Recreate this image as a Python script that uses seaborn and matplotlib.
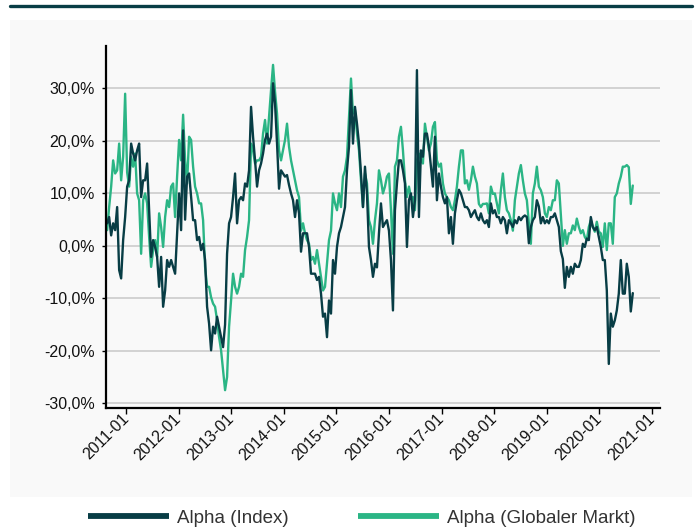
import numpy as np
import pandas as pd
import matplotlib
matplotlib.use("Agg")
import matplotlib.pyplot as plt
import matplotlib.dates as mdates
from matplotlib.lines import Line2D
from matplotlib.patches import Rectangle
import seaborn as sns

# ---- data (percent), roughly bi-weekly readings ----
start_date = "2010-08-22"
end_date = "2020-08-20"

alpha_index = [
    4.3, 5.5, 2.0, 4.3, 3.0, 7.4, -4.6, -6.2, 1.1, 5.5, 11.3, 12.5, 19.5, 17.6, 16.3, 18.2, 19.5, 9.3, 12.5, 12.5,
    15.7, 6.8, -2.1, 1.1, -0.2, -2.1, -7.8, -2.1, -11.6, -8.5, -2.7, -4.0, -2.7, -4.0, -5.3, 2.4, 10.0, 3.0,
    22.0, 5.0, 13.2, 13.8, 9.3, 4.9, 4.9, 1.1, 1.7, -0.8, 0.4, -2.7, -11.6, -14.8, -19.9, -15.4, -16.7, -13.5, -15.4, -17.4,
    -19.3, -15.0, -1.5, 4.3, 5.5, 9.3, 13.8, 4.3, 8.7, 9.3, 8.7, 11.9, 11.3, 14.4, 26.5, 20.8, 16.3, 11.3,
    14.4, 15.7, 17.6, 20.2, 21.4, 19.5, 20.8, 31.0, 27.1, 19.5, 10.9, 14.4, 13.8, 13.2, 13.5, 11.6, 10.0, 8.7, 5.5, 8.7,
    6.2, -1.1, 2.4, 2.4, 2.4, -0.2, -5.3, -5.3, -5.3, -6.5, -5.9, -9.1, -13.5, -12.9, -17.4, -10.4, -12.9, -2.7,
    -5.3, -0.2, 2.4, 3.6, 5.5, 7.4, 14.4, 18.9, 29.7, 19.5, 26.5, 23.3, 19.5, 13.8, 7.4, 15.1, 10.0, -0.2, -2.7, -5.9,
    -3.4, -4.1, 2.4, 8.1, 3.6, 4.3, 4.9, 2.9, -2.7, -12.3, 6.8, 11.9, 16.3, 16.3, 14.4, 11.9, -0.2, 8.7,
    10.0, 5.5, 8.7, 33.5, 5.5, 18.2, 17.0, 21.4, 21.4, 18.9, 15.1, 11.3, 20.8, 8.7, 13.8, 11.3, 9.3, 8.1, 9.3, 2.4,
    5.5, 0.4, 6.2, 8.7, 10.7, 10.0, 8.7, 7.4, 7.4, 6.8, 5.5, 6.2, 6.8, 5.5, 4.9, 6.2, 4.9, 4.3,
    4.9, 3.6, 8.1, 6.2, 6.8, 5.5, 5.5, 4.3, 5.5, 4.9, 2.4, 4.9, 4.3, 3.6, 4.9, 4.3, 5.5, 4.9, 5.5, 5.8,
    5.5, 0.5, 3.6, 4.9, 5.5, 8.7, 7.5, 4.3, 5.5, 4.3, 4.9, 4.3, 5.5, 5.5, 6.2, 4.9, 3.6, -1.0,
    -2.5, -8.0, -4.0, -5.9, -4.0, -5.3, -3.4, -4.0, -4.0, -2.7, 0.4, -0.2, 1.4, 1.1, 5.5, 3.6, 3.0, 3.6, 1.7, -0.2,
    -2.7, -2.7, -8.5, -22.5, -12.9, -15.4, -14.2, -12.3, -9.1, -2.7, -9.1, -9.1, -3.4, -5.9, -12.5, -9.0,
]

alpha_global = [
    3.0, 7.4, 11.3, 16.3, 13.8, 14.4, 19.5, 12.5, 17.0, 29.0, 14.0, 11.3, 17.0, 15.1, 17.6, 10.0, 8.7, -1.5, 8.7, 10.0,
    8.1, 1.7, -4.0, -0.8, 1.1, -2.1, 6.2, 3.6, -0.2, 5.5, 8.7, 7.4, 11.3, 11.9, 5.5, 13.2, 20.2, 16.3,
    25.0, 16.3, 11.9, 20.8, 20.2, 15.1, 11.3, 10.0, 8.1, 8.1, 4.9, -4.0, -7.8, -7.8, -9.8, -11.0, -11.6, -14.2, -17.4, -19.9,
    -23.7, -27.5, -25.0, -15.4, -10.4, -5.3, -7.8, -9.1, -7.8, -5.3, -5.9, -0.8, 1.7, 4.9, 19.5, 18.2, 15.7, 16.3,
    16.3, 17.0, 21.4, 24.0, 19.5, 24.6, 29.7, 34.5, 29.4, 25.2, 18.2, 16.3, 18.2, 20.2, 23.3, 18.9, 16.3, 14.4, 12.5, 10.6,
    9.3, 2.9, 4.3, 2.4, 1.1, 0.4, -2.7, -2.1, -3.4, -0.8, -3.4, -5.9, -8.5, -7.8, -3.4, 1.1, 2.9, 10.0,
    8.1, 6.8, 10.0, 7.4, 13.2, 14.4, 17.0, 24.6, 31.9, 25.2, 25.9, 21.4, 18.2, 12.5, 7.4, 13.8, 11.9, 4.9, 3.6, 0.4,
    4.9, 8.1, 14.4, 12.5, 10.0, 11.3, 13.2, 13.8, 6.8, -1.5, 15.1, 16.3, 20.8, 22.7, 18.2, 12.5, 9.3, 11.3,
    9.3, 9.3, 6.8, 16.3, 17.6, 16.3, 15.7, 23.3, 20.8, 18.2, 19.5, 22.7, 23.6, 16.3, 15.1, 15.7, 11.9, 10.0, 9.3, 8.7,
    7.4, 6.8, 8.7, 11.3, 15.1, 18.2, 18.2, 11.9, 12.5, 10.7, 12.5, 15.1, 13.2, 11.9, 8.0, 7.4, 8.0, 8.0,
    8.1, 6.2, 11.3, 9.9, 10.0, 8.1, 6.2, 10.6, 13.8, 9.3, 6.8, 6.2, 4.9, 2.9, 8.7, 11.3, 13.8, 15.4, 12.5, 10.0,
    8.7, 4.3, 0.4, 10.0, 11.9, 15.1, 11.3, 10.6, 9.3, 6.2, 5.5, 7.4, 6.8, 8.7, 8.7, 12.5, 11.9, 6.0,
    0.0, 3.0, 0.4, 2.4, 2.4, 3.9, 3.0, 5.2, 3.6, 2.4, 3.0, 1.7, 1.1, 3.6, 4.9, 3.6, 2.7, 4.6, 2.7, 2.4,
    -0.2, 4.3, -0.8, 4.3, 4.3, 0.4, 9.3, 10.0, 11.9, 13.2, 15.1, 15.1, 15.4, 15.0, 8.0, 11.5,
]

series_names = ["Alpha (Index)", "Alpha (Globaler Markt)"]
y_ticks = [-30, -20, -10, 0, 10, 20, 30]
x_tick_years = list(range(2011, 2022))

DARK = "#083d45"
GREEN = "#2bb585"

dates = pd.date_range(start_date, end_date, periods=len(alpha_index))
df = pd.DataFrame({"date": dates, series_names[0]: alpha_index, series_names[1]: alpha_global})
long = df.melt(id_vars="date", var_name="series", value_name="value")

sns.set_style("white")
plt.rcParams["font.family"] = ["Liberation Sans", "DejaVu Sans"]

fig = plt.figure(figsize=(7.0, 5.29), dpi=100)
W, H = 700, 529

# background panel and top rule
panel = Rectangle((10 / W, 1 - 497 / H), 682 / W, 477 / H, transform=fig.transFigure,
                  facecolor="#f9f9f9", edgecolor="none", zorder=-10)
fig.patches.append(panel)
fig.lines.append(Line2D([10 / W, 692 / W], [1 - 6 / H, 1 - 6 / H], transform=fig.transFigure,
                        color=DARK, linewidth=2.4, zorder=-5))

ax = fig.add_axes([106 / W, 1 - 408 / H, (660 - 106) / W, (408 - 46) / H])
ax.set_zorder(5)
ax.set_facecolor("none")

sns.lineplot(data=long, x="date", y="value", hue="series",
             hue_order=[series_names[1], series_names[0]],
             palette={series_names[0]: DARK, series_names[1]: GREEN},
             linewidth=1.7, ax=ax, legend=False)

ax.set_xlim(pd.Timestamp("2010-08-14"), pd.Timestamp("2021-02-25"))
ax.set_ylim(-30.9, 38.1)
ax.set_yticks(y_ticks)
ax.set_yticklabels([f"{v:.1f}".replace(".", ",") + "%" for v in y_ticks])
ax.set_xticks([pd.Timestamp(f"{y}-01-01") for y in x_tick_years])
ax.xaxis.set_major_formatter(mdates.DateFormatter("%Y-%m"))
ax.set_xlabel("")
ax.set_ylabel("")

ax.grid(axis="y", color="#c8c8c8", linewidth=1.1)
ax.grid(axis="x", visible=False)
ax.set_axisbelow(True)
for s in ["top", "right"]:
    ax.spines[s].set_visible(False)
for s in ["left", "bottom"]:
    ax.spines[s].set_color("black")
    ax.spines[s].set_linewidth(1.6)

ax.tick_params(axis="y", left=True, length=3, width=1, color="black", pad=5, labelsize=11.5, labelcolor="#111111")
ax.tick_params(axis="x", bottom=True, length=4, width=1, color="black", pad=2, labelsize=11.5, labelcolor="#111111")
for lab in ax.get_xticklabels():
    lab.set_rotation(45)
    lab.set_ha("right")
    lab.set_rotation_mode("anchor")
    lab.set_va("center")

handles = [Line2D([], [], color=DARK, linewidth=4.2, solid_capstyle="butt"),
           Line2D([], [], color=GREEN, linewidth=4.2, solid_capstyle="butt")]
fig.legend(handles, series_names, loc="center", bbox_to_anchor=(0.5 + 12 / W, 1 - 518 / H), ncol=2,
           frameon=False, fontsize=13.5, handlelength=4.3, handletextpad=0.45, columnspacing=3.7,
           labelcolor="#333333")

fig.savefig("out.png", dpi=100, facecolor="white")
